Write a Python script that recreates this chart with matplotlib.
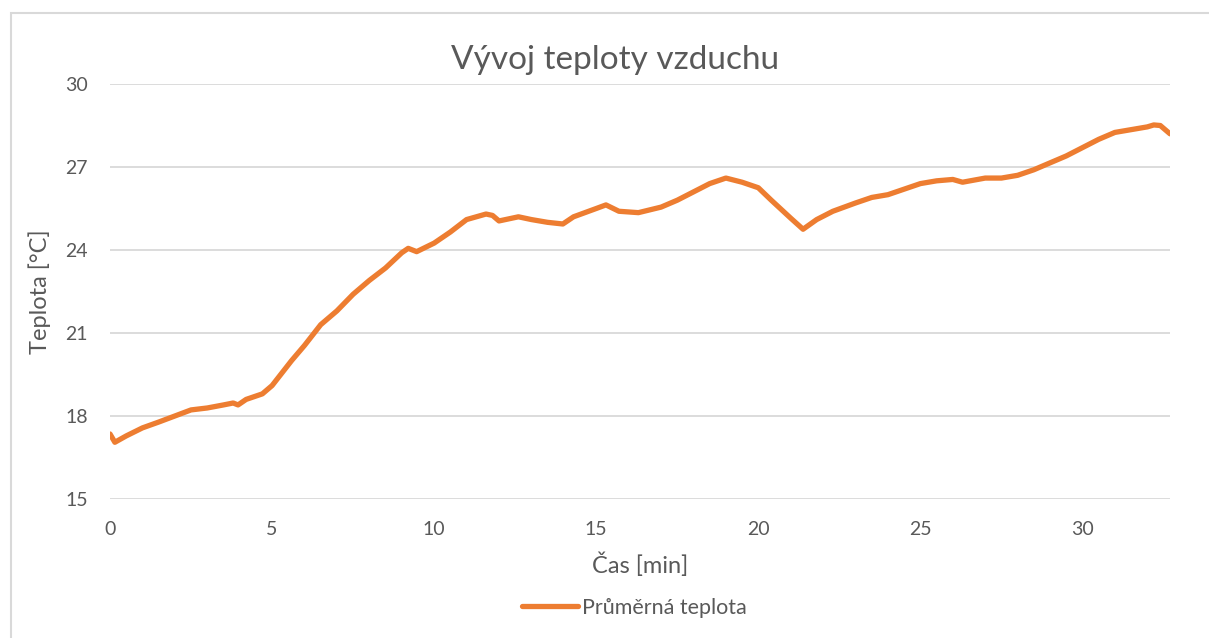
import matplotlib.pyplot as plt
from matplotlib.patches import Rectangle

plt.rcParams['font.family'] = ['Lato', 'DejaVu Sans']

# data (time in min, temperature in degC)
cas = [0.0, 0.15, 0.5, 1.0, 1.5, 2.0, 2.5, 3.0, 3.5, 3.8, 3.95, 4.2, 4.7, 5.0,
       5.3, 5.6, 6.0, 6.5, 7.0, 7.5, 8.0, 8.5, 9.0, 9.2, 9.46, 10.0, 10.5,
       11.0, 11.3, 11.6, 11.8, 12.0, 12.6, 13.0, 13.5, 13.97, 14.3, 15.0,
       15.3, 15.7, 16.3, 17.0, 17.5, 18.0, 18.5, 19.0, 19.5, 20.0, 20.4,
       21.0, 21.38, 21.8, 22.3, 23.0, 23.5, 24.0, 24.5, 25.0, 25.5, 26.0,
       26.3, 27.0, 27.5, 28.0, 28.5, 29.0, 29.5, 30.0, 30.5, 31.0, 31.5,
       32.0, 32.2, 32.4, 32.7]
teplota = [17.35, 17.05, 17.28, 17.57, 17.78, 18.0, 18.22, 18.29, 18.4, 18.47,
           18.4, 18.6, 18.8, 19.1, 19.55, 20.0, 20.55, 21.3, 21.8, 22.4, 22.9,
           23.35, 23.9, 24.06, 23.94, 24.25, 24.65, 25.1, 25.2, 25.3, 25.25,
           25.05, 25.2, 25.1, 25.0, 24.94, 25.2, 25.5, 25.63, 25.4, 25.35,
           25.55, 25.8, 26.1, 26.4, 26.6, 26.45, 26.25, 25.8, 25.15, 24.75,
           25.1, 25.4, 25.7, 25.9, 26.0, 26.2, 26.4, 26.5, 26.55, 26.45, 26.6,
           26.6, 26.7, 26.9, 27.15, 27.4, 27.7, 28.0, 28.25, 28.35, 28.45,
           28.52, 28.5, 28.2]

yticks = [15, 18, 21, 24, 27, 30]
xticks = [0, 5, 10, 15, 20, 25, 30]

grey = '#595959'

fig = plt.figure(figsize=(12.09, 6.38), dpi=100)
ax = fig.add_axes([110 / 1209, 1 - 499 / 638, 1060 / 1209, 415 / 638])

ax.plot(cas, teplota, color='#ED7D31', linewidth=3.8, solid_capstyle='round',
        label='Průměrná teplota')

ax.set_xlim(0, 32.7)
ax.set_ylim(15, 30)
ax.set_yticks(yticks)
ax.set_xticks(xticks)
ax.grid(axis='y', color='#d9d9d9', linewidth=1.3)
ax.set_axisbelow(True)
for s in ax.spines.values():
    s.set_visible(False)
ax.tick_params(length=0, labelsize=14, colors=grey)
ax.tick_params(axis='y', pad=16)
ax.tick_params(axis='x', pad=16)

fig.text(615 / 1209, 1 - 60 / 638, 'Vývoj teploty vzduchu', fontsize=24,
         color=grey, ha='center', va='center')
ax.set_xlabel('Čas [min]', fontsize=17, color=grey, labelpad=10)
ax.set_ylabel('Teplota [°C]', fontsize=17, color=grey, labelpad=10)

leg = fig.legend(loc='center', bbox_to_anchor=(0.525, 1 - 608 / 638),
                 frameon=False, fontsize=15.5, handlelength=2.6, handletextpad=0.2)
for t in leg.get_texts():
    t.set_color(grey)

fig.patches.append(Rectangle((11 / 1209, -0.05), 1.2, 1 - 13 / 638 + 0.05,
                             transform=fig.transFigure, fill=False,
                             edgecolor='#d9d9d9', linewidth=1.5))

fig.savefig('out.png', dpi=100)
